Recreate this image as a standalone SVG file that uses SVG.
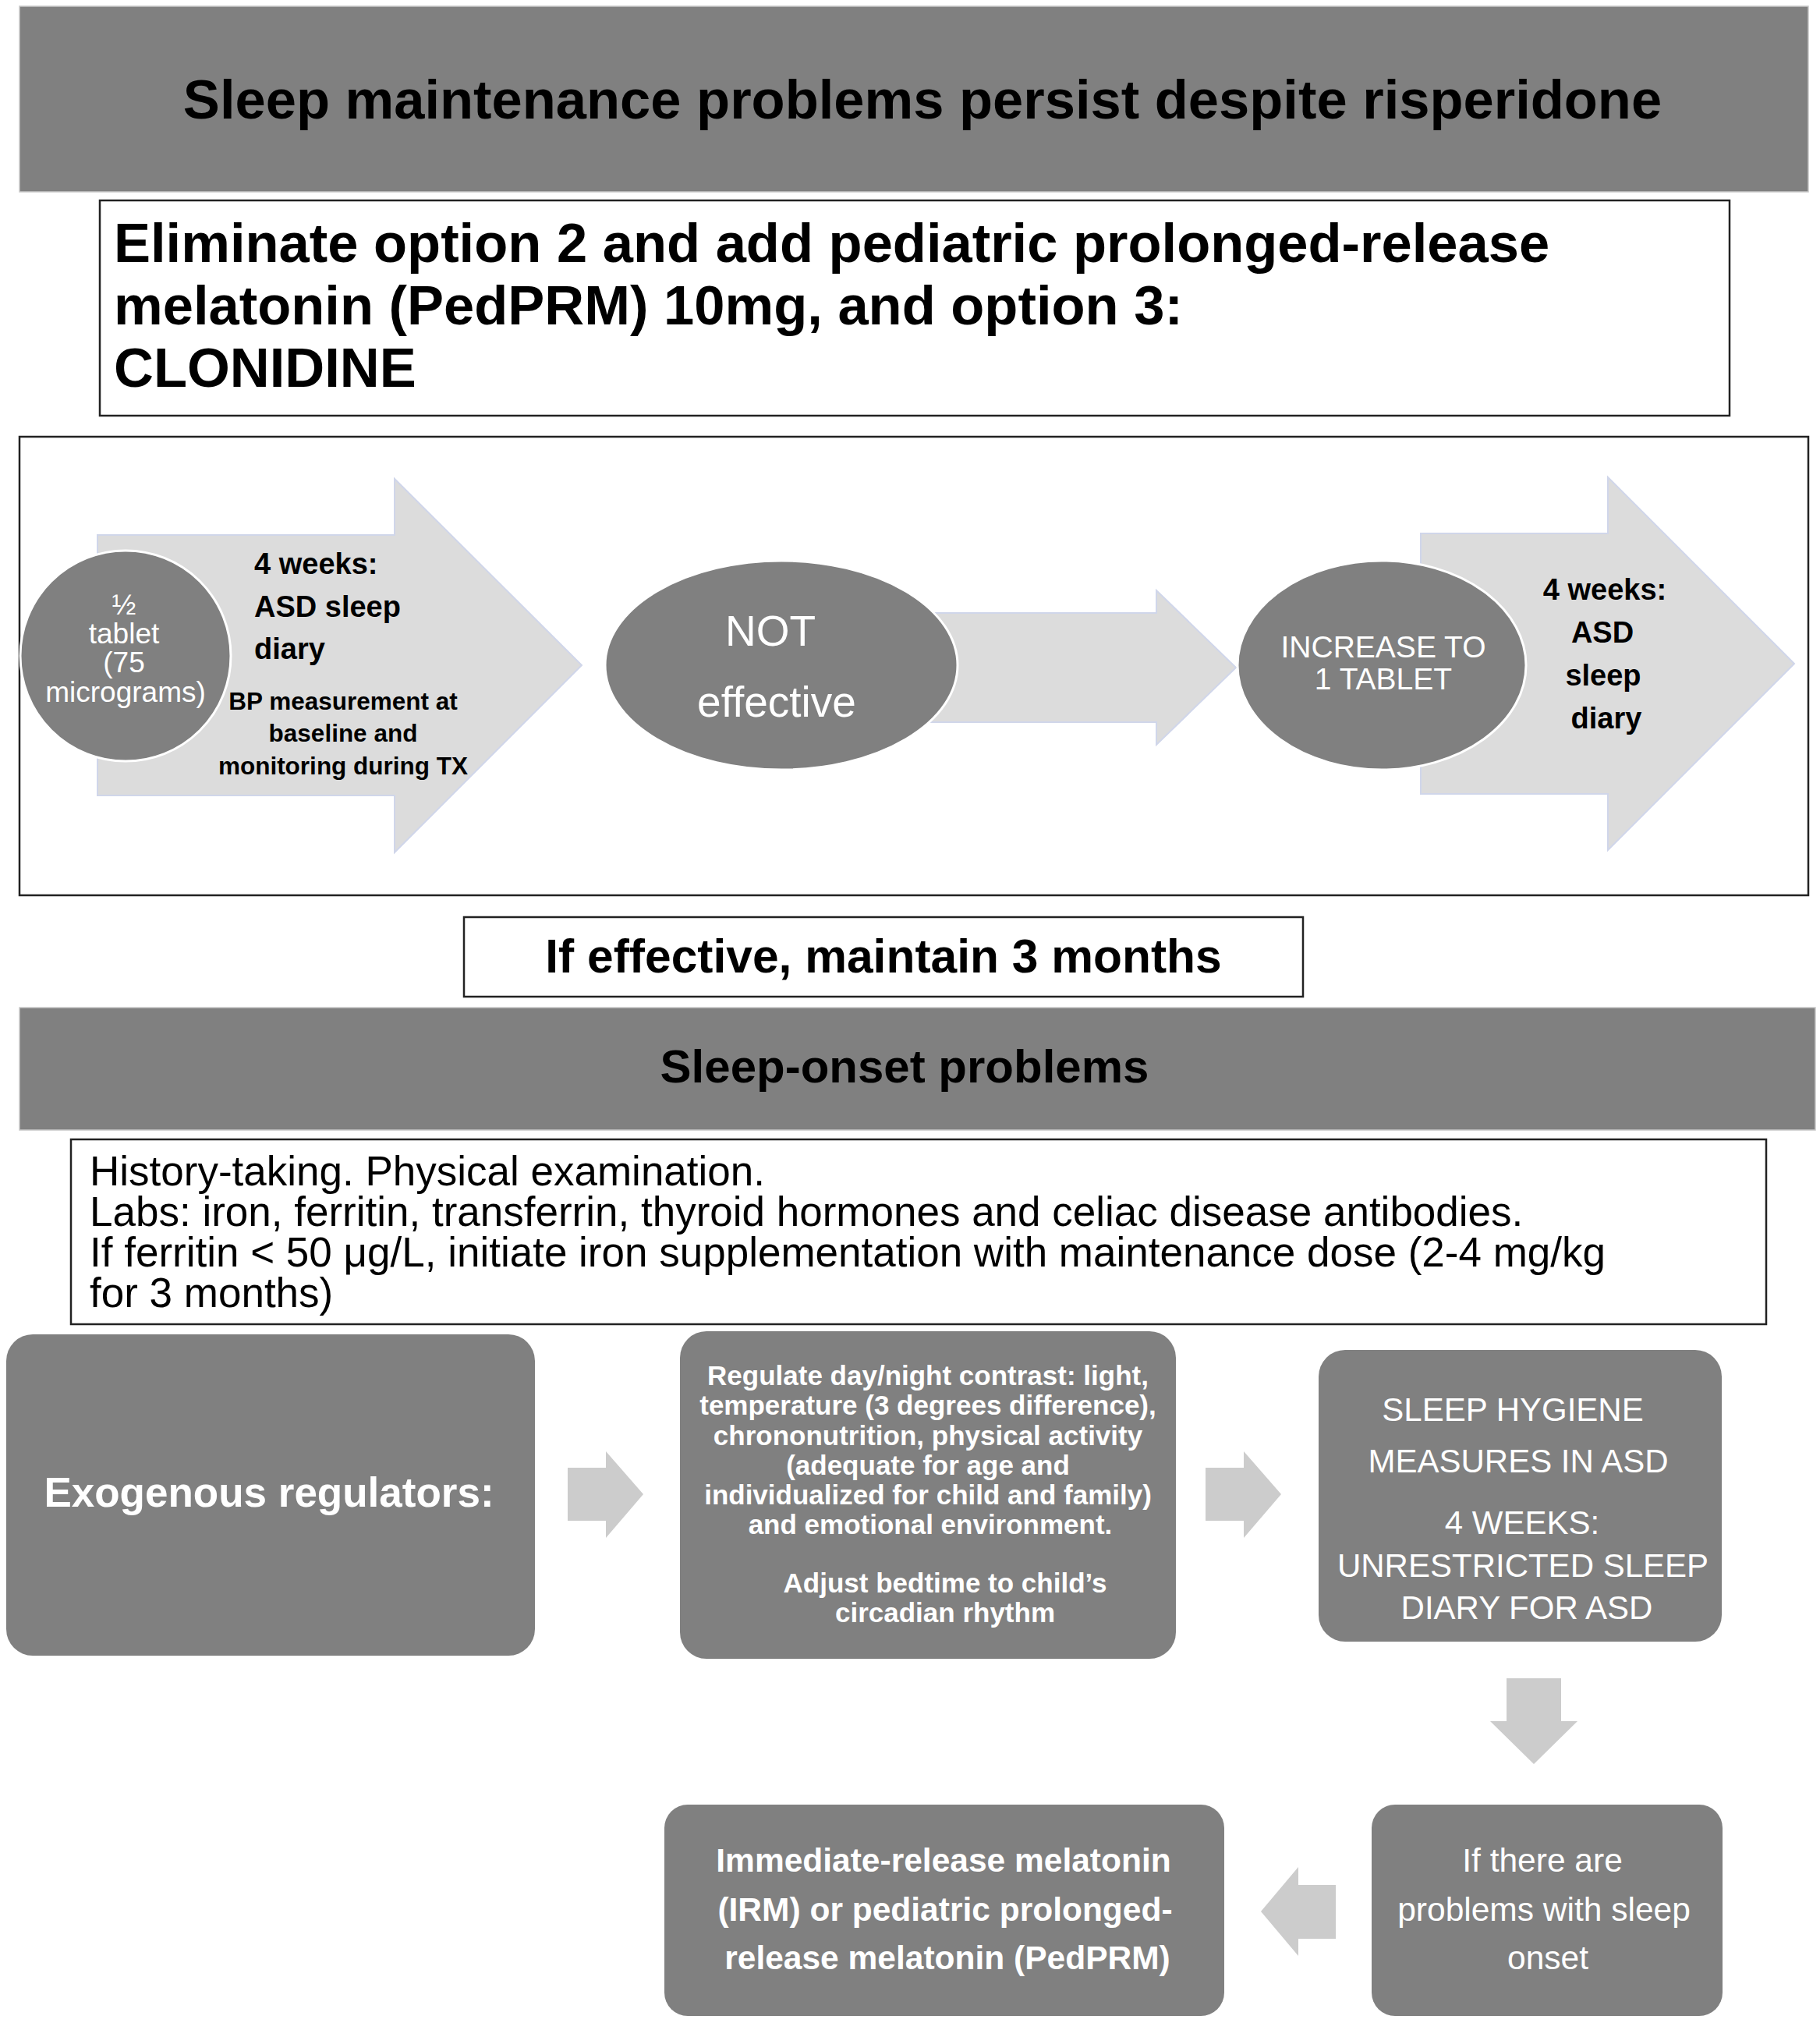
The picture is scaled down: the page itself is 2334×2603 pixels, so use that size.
<svg xmlns="http://www.w3.org/2000/svg" width="2334" height="2603" viewBox="0 0 2334 2603">
<style>
text{font-family:"Liberation Sans",Arial,Helvetica,sans-serif}
.b{font-weight:bold}
.w{fill:#ffffff}
.k{fill:#000000}
.c{text-anchor:middle}
.banner{fill:#808080;stroke:#c8c8c8;stroke-width:1.5}
.frame{fill:#ffffff;stroke:#222222;stroke-width:2.5}
.big{fill:#dcdcdc;stroke:#d0d6ea;stroke-width:2}
.small{fill:#cccccc}
.node{fill:#808080;stroke:#ffffff;stroke-width:3}
.box{fill:#808080}
</style>
<rect width="2334" height="2603" fill="#ffffff"/>

<g id="header-maintenance">
<rect class="banner" x="25" y="8" width="2294" height="238"/>
<text class="b k c" x="1183" y="152" font-size="70.5">Sleep maintenance problems persist despite risperidone</text>
</g>

<g id="eliminate-box">
<rect class="frame" x="128" y="257" width="2090" height="276"/>
<text class="b k" x="146" y="336" font-size="70.5">Eliminate option 2 and add pediatric prolonged-release</text>
<text class="b k" x="146" y="416" font-size="70.5">melatonin (PedPRM) 10mg, and option 3:</text>
<text class="b k" x="146" y="496" font-size="70.5">CLONIDINE</text>
</g>

<g id="clonidine-frame">
<rect class="frame" x="25" y="560" width="2294" height="588"/>
</g>

<g id="connectors">
<polygon class="big" points="125,686 506,686 506,614 746,853 506,1093 506,1020 125,1020"/>
<polygon class="big" points="1150,786 1483,786 1483,757 1585,856 1483,955 1483,926 1150,926"/>
<polygon class="big" points="1822,684 2062,684 2062,612 2301,851 2062,1090 2062,1018 1822,1018"/>
<polygon class="small" points="728,1882 777,1882 777,1861 825,1916 777,1972 777,1950 728,1950"/>
<polygon class="small" points="1546,1882 1595,1882 1595,1861 1643,1916 1595,1972 1595,1950 1546,1950"/>
<polygon class="small" points="1932,2152 2002,2152 2002,2207 2023,2207 1967,2262 1911,2207 1932,2207"/>
<polygon class="small" points="1713,2417 1665,2417 1665,2394 1617,2451 1665,2508 1665,2486 1713,2486"/>
</g>

<g id="arrow1-labels">
<text class="b k" x="326" y="736" font-size="38">4 weeks:</text>
<text class="b k" x="326" y="791" font-size="38">ASD sleep</text>
<text class="b k" x="326" y="845" font-size="38">diary</text>
<text class="b k c" x="440" y="910" font-size="31.5">BP measurement at</text>
<text class="b k c" x="440" y="951" font-size="31.5">baseline and</text>
<text class="b k c" x="440" y="993" font-size="31.5">monitoring during TX</text>
</g>

<g id="half-tablet">
<ellipse class="node" cx="161" cy="841" rx="135" ry="135"/>
<text class="w c" x="159" y="788" font-size="37">½</text>
<text class="w c" x="159" y="825" font-size="37">tablet</text>
<text class="w c" x="159" y="862" font-size="37">(75</text>
<text class="w c" x="161" y="900" font-size="37">micrograms)</text>
</g>

<g id="not-effective">
<ellipse class="node" cx="1002" cy="853" rx="226" ry="134"/>
<text class="w c" x="988" y="828" font-size="55">NOT</text>
<text class="w c" x="996" y="919" font-size="55">effective</text>
</g>

<g id="increase">
<ellipse class="node" cx="1772" cy="853" rx="185" ry="134"/>
<text class="w c" x="1774" y="843" font-size="39">INCREASE TO</text>
<text class="w c" x="1774" y="884" font-size="39">1 TABLET</text>
</g>

<g id="arrow3-labels">
<text class="b k c" x="2058" y="769" font-size="38">4 weeks:</text>
<text class="b k c" x="2055" y="824" font-size="38">ASD</text>
<text class="b k c" x="2056" y="879" font-size="38">sleep</text>
<text class="b k c" x="2060" y="934" font-size="38">diary</text>
</g>

<g id="maintain-box">
<rect class="frame" x="595" y="1176" width="1076" height="102"/>
<text class="b k c" x="1133" y="1247" font-size="60.5">If effective, maintain 3 months</text>
</g>

<g id="header-onset">
<rect class="banner" x="25" y="1292" width="2303" height="157"/>
<text class="b k c" x="1160" y="1388" font-size="60">Sleep-onset problems</text>
</g>

<g id="history-box">
<rect class="frame" x="91" y="1461" width="2174" height="237"/>
<text class="k" x="115" y="1520" font-size="53">History-taking. Physical examination.</text>
<text class="k" x="115" y="1572" font-size="53">Labs: iron, ferritin, transferrin, thyroid hormones and celiac disease antibodies.</text>
<text class="k" x="115" y="1624" font-size="53">If ferritin &lt; 50 μg/L, initiate iron supplementation with maintenance dose (2-4 mg/kg</text>
<text class="k" x="115" y="1676" font-size="53">for 3 months)</text>
</g>

<g id="exogenous">
<rect class="box" x="8" y="1711" width="678" height="412" rx="34"/>
<text class="b w c" x="345" y="1932" font-size="53">Exogenous regulators:</text>
</g>

<g id="regulate">
<rect class="box" x="872" y="1707" width="636" height="420" rx="34"/>
<text class="b w c" x="1190" y="1776" font-size="35">Regulate day/night contrast: light,</text>
<text class="b w c" x="1190" y="1814" font-size="35">temperature (3 degrees difference),</text>
<text class="b w c" x="1190" y="1853" font-size="35">chrononutrition, physical activity</text>
<text class="b w c" x="1190" y="1891" font-size="35">(adequate for age and</text>
<text class="b w c" x="1190" y="1929" font-size="35">individualized for child and family)</text>
<text class="b w c" x="1193" y="1967" font-size="35">and emotional environment.</text>
<text class="b w c" x="1212" y="2042" font-size="35">Adjust bedtime to child’s</text>
<text class="b w c" x="1212" y="2080" font-size="35">circadian rhythm</text>
</g>

<g id="sleep-hygiene">
<rect class="box" x="1691" y="1731" width="517" height="374" rx="34"/>
<text class="w c" x="1940" y="1822" font-size="42">SLEEP HYGIENE</text>
<text class="w c" x="1947" y="1888" font-size="42">MEASURES IN ASD</text>
<text class="w c" x="1952" y="1967" font-size="42">4 WEEKS:</text>
<text class="w c" x="1953" y="2022" font-size="42">UNRESTRICTED SLEEP</text>
<text class="w c" x="1958" y="2076" font-size="42">DIARY FOR ASD</text>
</g>

<g id="sleep-onset-check">
<rect class="box" x="1759" y="2314" width="450" height="271" rx="30"/>
<text class="w c" x="1978" y="2400" font-size="42.5">If there are</text>
<text class="w c" x="1980" y="2463" font-size="42.5">problems with sleep</text>
<text class="w c" x="1985" y="2525" font-size="42.5">onset</text>
</g>

<g id="melatonin">
<rect class="box" x="852" y="2314" width="718" height="271" rx="30"/>
<text class="b w c" x="1210" y="2400" font-size="42.5">Immediate-release melatonin</text>
<text class="b w c" x="1212" y="2463" font-size="42.5">(IRM) or pediatric prolonged-</text>
<text class="b w c" x="1215" y="2525" font-size="42.5">release melatonin (PedPRM)</text>
</g>
</svg>
